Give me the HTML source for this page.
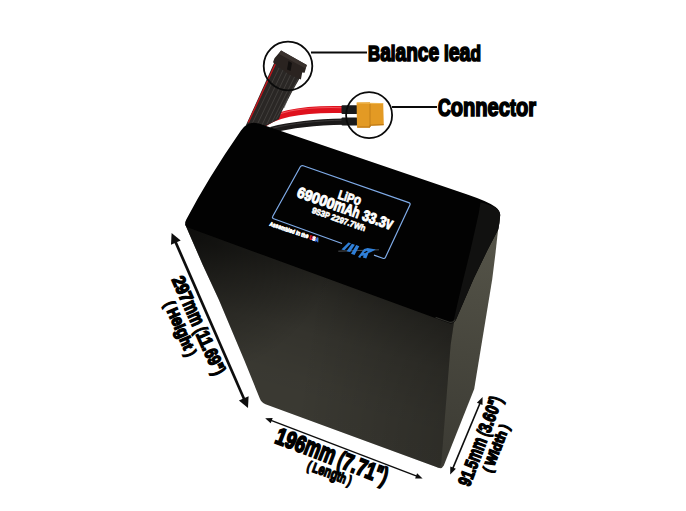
<!DOCTYPE html>
<html><head><meta charset="utf-8"><title>LiPo 69000mAh 33.3v</title>
<style>
html,body{margin:0;padding:0;background:#fff;}
svg{display:block}
text{font-family:"Liberation Sans",sans-serif;font-weight:bold;}
</style></head><body>
<svg width="686" height="511" viewBox="0 0 686 511">
<defs>
<linearGradient id="gf" gradientUnits="userSpaceOnUse" x1="335" y1="278" x2="290" y2="440">
<stop offset="0" stop-color="#000" stop-opacity="0.42"/><stop offset="0.12" stop-color="#000" stop-opacity="0.3"/><stop offset="0.35" stop-color="#000" stop-opacity="0.13"/><stop offset="0.65" stop-color="#000" stop-opacity="0.03"/><stop offset="1" stop-color="#000" stop-opacity="0"/>
</linearGradient>
<linearGradient id="gf2" gradientUnits="userSpaceOnUse" x1="300" y1="380" x2="450" y2="400">
<stop offset="0" stop-color="#000" stop-opacity="0"/><stop offset="1" stop-color="#000" stop-opacity="0.22"/>
</linearGradient>
<radialGradient id="gf3" gradientUnits="userSpaceOnUse" cx="192" cy="226" r="150">
<stop offset="0" stop-color="#000" stop-opacity="0.6"/><stop offset="0.4" stop-color="#000" stop-opacity="0.32"/><stop offset="1" stop-color="#000" stop-opacity="0"/>
</radialGradient>
<linearGradient id="gr" gradientUnits="userSpaceOnUse" x1="490" y1="250" x2="455" y2="460">
<stop offset="0" stop-color="#535247"/><stop offset="0.5" stop-color="#47463d"/><stop offset="1" stop-color="#3c3b34"/>
</linearGradient>
</defs>
<rect width="686" height="511" fill="#fff"/>

<!-- power wires -->
<path d="M271,130 C290,125.2 318,122.2 344,121.7" stroke="#1b1919" stroke-width="6.3" fill="none"/>
<path d="M273,128.2 C291,123.4 318,120.6 344,120.1" stroke="#3a3737" stroke-width="1" fill="none"/>
<path d="M261.5,125.5 C275,113.5 302,108.6 343,109.6" stroke="#df111d" stroke-width="7" fill="none"/>
<path d="M265,121.5 C278,111 303,106.6 342,107.7" stroke="#f0525a" stroke-width="1.1" fill="none"/>
<rect x="341.5" y="105.3" width="16" height="8.6" rx="1" fill="#1a1a1a"/>
<rect x="341.5" y="117.6" width="16" height="7.8" rx="1" fill="#1a1a1a"/>
<path d="M356.6,102.6 L370,102.2 L370,103.2 L383.2,103.2 L383.8,125.2 L370,125.8 L370,127.8 L357,127.8 Z" fill="#e39a24"/>
<path d="M370,103 L370,127" stroke="#c07d18" stroke-width="0.9"/>
<path d="M357.2,103 L383.2,103.6" stroke="#f0b850" stroke-width="1"/>
<path d="M357.5,127 L370,127 L370,125.2 L383.6,124.6" stroke="#b87414" stroke-width="1" fill="none"/>

<!-- balance wires -->
<g id="balance">
<path d="M274.5,62 L301,76 L293,90 L281,113 L279,119 L262,128 L246,125 L257,101 Z" fill="#2a2725"/>
<g stroke="#4b4745" stroke-width="0.7" fill="none">
<path d="M279,68 L252,124"/><path d="M283,70 L257,125"/><path d="M287,72 L262,125"/><path d="M291,74 L267,124"/><path d="M295,76 L272,122"/><path d="M298,79 L276,119"/>
</g>
<path d="M284,108 L288,98" stroke="#555" stroke-width="0.6"/>
<path d="M275.3,64 L262,93 L248.3,122.5" stroke="#c4161d" stroke-width="1.4" fill="none"/>
<path d="M273,62.3 L274.5,58.2 L281.1,50.4 L306.8,65 L304.6,72.8 L302.2,72.4 L300.9,79.4 L288.5,74.2 Z" fill="#2a2320"/>
<path d="M281.1,50.4 L306.8,65 L305.6,68.6 L279,54 Z" fill="#3a322e"/>
<path d="M288.5,61 L292,63 L290.5,71 L287,69.5 Z" fill="#120f0e"/>
</g>

<!-- battery -->
<path d="M446,320 L488,236 L498.4,227 L495.3,254.8 L492.1,280 L474.2,389 L443.8,465.5 Q441.2,470.3 436.5,466.5 L440,345 Z" fill="url(#gr)"/>
<path d="M185,224 L454,322 L450.6,345 L441.3,462.5 Q440.8,468.6 437,467.3 L265.5,404.3 Q261.5,402.8 259.8,398.5 L244.2,360 L219,300 L202.8,265 Z" fill="#3b3a33"/>
<path d="M185,224 L454,322 L450.6,345 L441.3,462.5 Q440.8,468.6 437,467.3 L265.5,404.3 Q261.5,402.8 259.8,398.5 L244.2,360 L219,300 L202.8,265 Z" fill="url(#gf)"/>
<path d="M185,224 L454,322 L450.6,345 L441.3,462.5 Q440.8,468.6 437,467.3 L265.5,404.3 Q261.5,402.8 259.8,398.5 L244.2,360 L219,300 L202.8,265 Z" fill="url(#gf3)"/>
<path d="M185,224 L454,322 L450.6,345 L441.3,462.5 Q440.8,468.6 437,467.3 L265.5,404.3 Q261.5,402.8 259.8,398.5 L244.2,360 L219,300 L202.8,265 Z" fill="url(#gf2)"/>
<path d="M186.3,219.5 Q208,178 241,130.5 Q245.8,123.4 253,122.8 Q258,122.8 264,125.2 L468,194.8 Q489,202 495.5,207 Q500,210.5 500.2,215 L499.4,223 L498.2,229.5 L487.5,250 L473.5,279 L456,319.5 Q454,324 449.5,323.3 L188,227.5 Q183.3,225.3 186.3,219.5 Z" fill="#020202"/>

<path d="M480.5,202.5 Q490,204.5 496,208 Q500,211 500.2,215 L499.4,223 L498.2,229.5 L487.5,250 L473.5,279 L456,319.5 Q455,321.8 453.2,322.6 L459,297 L470.5,250 L478.8,213 Z" fill="#111110"/>
<path d="M436,317.6 L449.5,322.2 Q453.4,323 455,320" stroke="#30302c" stroke-width="1.1" fill="none" stroke-linecap="round"/>
<!-- label -->
<path d="M342,243.5 L273.7,218.7 Q271.8,218 272.8,216.3 L300.3,166.8 Q301.3,165.1 303.2,165.8 L408.8,202.6 Q410.7,203.3 409.9,205.1 L385.5,257.2 Q384.7,259 382.8,258.3 L374,255.1" stroke="#7fabe8" stroke-width="1.2" fill="none"/>
<g id="logo">
<path d="M338.3,251.2 Q356,250.6 379,249.8" stroke="#9aa0a8" stroke-width="0.5" fill="none"/>
<path d="M341.4,249.4 L348.4,242.4 L351.0,243.3 L344.4,250.3 Z M346.6,251.2 L351.9,243.7 L354.9,244.8 L350.1,252.1 Z M351.0,253.8 L356.2,245.1 L359.3,246.2 L354.5,254.9 Z" fill="#2f7fd8"/>
<path d="M358.0,256.9 L364.1,249.0 L367.6,248.1 L375.9,249.4 L371.1,252.1 L368.5,252.9 L366.3,258.6 L362.8,257.6 L363.7,255.6 L361.1,256.0 L360.2,257.9 Z" fill="#2f7fd8"/>
<path d="M363.7,252.5 L366.7,250.7 L367.8,251.6 L365.0,253.2 Z" fill="#0a0a0a"/>
</g>

<!-- callouts -->
<circle cx="288" cy="66" r="24.3" fill="none" stroke="#0a0a0a" stroke-width="1.8"/>
<circle cx="369.1" cy="115.2" r="23" fill="none" stroke="#0a0a0a" stroke-width="1.8"/>
<line x1="311" y1="52.5" x2="367" y2="52.5" stroke="#0a0a0a" stroke-width="2"/>
<line x1="392" y1="107" x2="437" y2="107" stroke="#0a0a0a" stroke-width="2"/>

<!-- arrows -->
<g id="arrows">
<line x1="175.0" y1="240.7" x2="244.6" y2="400.2" stroke="#0d0d0d" stroke-width="2.7"/>
<path d="M171.6,232.9 L171.0,244.7 L180.7,240.5 Z" fill="#0d0d0d"/>
<path d="M248.0,408.0 L238.9,400.4 L248.6,396.2 Z" fill="#0d0d0d"/>
<line x1="270.4" y1="420.2" x2="417.4" y2="476.4" stroke="#0d0d0d" stroke-width="1.4"/>
<path d="M265.2,418.2 L270.7,423.3 L272.7,418.1 Z" fill="#0d0d0d"/>
<path d="M422.6,478.4 L415.1,478.5 L417.1,473.3 Z" fill="#0d0d0d"/>
<line x1="452.5" y1="469.1" x2="480.3" y2="402.5" stroke="#0d0d0d" stroke-width="1.6"/>
<path d="M450.2,474.6 L455.9,468.8 L450.3,466.5 Z" fill="#0d0d0d"/>
<path d="M482.6,397.0 L482.5,405.1 L476.9,402.8 Z" fill="#0d0d0d"/>
</g>
<text xml:space="preserve" transform="translate(171.4,279.4) rotate(66.0)" font-size="18.40" stroke-width="1.50" fill="#000" stroke="#000"><tspan textLength="26.63" lengthAdjust="spacingAndGlyphs">297</tspan><tspan textLength="26.00" lengthAdjust="spacingAndGlyphs"><tspan font-size="20.98">mm</tspan></tspan><tspan textLength="7.55" lengthAdjust="spacingAndGlyphs"> (</tspan><tspan textLength="35.35" lengthAdjust="spacingAndGlyphs">11.69</tspan><tspan textLength="10.46" lengthAdjust="spacingAndGlyphs">")</tspan></text>
<text xml:space="preserve" transform="translate(163.9,303.9) rotate(66.5)" font-size="15.40" stroke-width="1.50" fill="#000" stroke="#000"><tspan textLength="7.38" lengthAdjust="spacingAndGlyphs">( </tspan><tspan textLength="43.74" lengthAdjust="spacingAndGlyphs">H<tspan font-size="17.56">e</tspan>i<tspan font-size="17.56">g</tspan>ht</tspan><tspan textLength="7.38" lengthAdjust="spacingAndGlyphs"> )</tspan></text>
<text xml:space="preserve" transform="translate(273.8,442.4) rotate(20.9)" font-size="23.60" stroke-width="1.80" fill="#000" stroke="#000"><tspan textLength="30.76" lengthAdjust="spacingAndGlyphs">196</tspan><tspan textLength="31.72" lengthAdjust="spacingAndGlyphs"><tspan font-size="26.90">mm</tspan></tspan><tspan textLength="9.21" lengthAdjust="spacingAndGlyphs"> (</tspan><tspan textLength="34.05" lengthAdjust="spacingAndGlyphs">7.71</tspan><tspan textLength="12.77" lengthAdjust="spacingAndGlyphs">")</tspan></text>
<text xml:space="preserve" transform="translate(306.2,469.4) rotate(20.3)" font-size="13.60" stroke-width="1.40" fill="#000" stroke="#000"><tspan textLength="5.75" lengthAdjust="spacingAndGlyphs">( </tspan><tspan textLength="35.00" lengthAdjust="spacingAndGlyphs">L<tspan font-size="15.50">eng</tspan>th</tspan><tspan textLength="5.75" lengthAdjust="spacingAndGlyphs"> )</tspan></text>
<text xml:space="preserve" transform="translate(469.6,487.2) rotate(-69.4)" font-size="18.20" stroke-width="1.50" fill="#000" stroke="#000"><tspan textLength="25.91" lengthAdjust="spacingAndGlyphs">91.5</tspan><tspan textLength="24.14" lengthAdjust="spacingAndGlyphs"><tspan font-size="20.75">mm</tspan></tspan><tspan textLength="7.01" lengthAdjust="spacingAndGlyphs"> (</tspan><tspan textLength="27.23" lengthAdjust="spacingAndGlyphs">3.60</tspan><tspan textLength="9.72" lengthAdjust="spacingAndGlyphs">")</tspan></text>
<text xml:space="preserve" transform="translate(491.4,473.3) rotate(-68.6)" font-size="14.00" stroke-width="1.40" fill="#000" stroke="#000"><tspan textLength="6.71" lengthAdjust="spacingAndGlyphs">( </tspan><tspan textLength="36.57" lengthAdjust="spacingAndGlyphs">Width</tspan><tspan textLength="6.71" lengthAdjust="spacingAndGlyphs"> )</tspan></text>
<text xml:space="preserve" transform="translate(368.0,61.0) rotate(0.0)" font-size="22.00" stroke-width="1.70" fill="#000" stroke="#000"><tspan textLength="71.17" lengthAdjust="spacingAndGlyphs">B<tspan font-size="25.08">a</tspan>l<tspan font-size="25.08">ance</tspan></tspan><tspan textLength="41.83" lengthAdjust="spacingAndGlyphs"> l<tspan font-size="25.08">ea</tspan>d</tspan></text>
<text xml:space="preserve" transform="translate(438.0,116.0) rotate(0.0)" font-size="23.00" stroke-width="1.70" fill="#000" stroke="#000"><tspan textLength="98.00" lengthAdjust="spacingAndGlyphs">C<tspan font-size="26.22">onnec</tspan>t<tspan font-size="26.22">or</tspan></tspan></text>
<text xml:space="preserve" transform="translate(337.3,198.3) rotate(18.2)" font-size="12.60" stroke-width="0.80" fill="#fff" stroke="#fff"><tspan textLength="23.50" lengthAdjust="spacingAndGlyphs">LiP<tspan font-size="14.36">o</tspan></tspan></text>
<text xml:space="preserve" transform="translate(295.9,196.6) rotate(19.4)" font-size="15.20" stroke-width="1.00" fill="#fff" stroke="#fff"><tspan textLength="38.93" lengthAdjust="spacingAndGlyphs">69000</tspan><tspan textLength="26.75" lengthAdjust="spacingAndGlyphs"><tspan font-size="17.33">m</tspan>Ah</tspan><tspan textLength="28.17" lengthAdjust="spacingAndGlyphs"> 33.3</tspan><tspan textLength="6.65" lengthAdjust="spacingAndGlyphs"><tspan font-size="17.33">v</tspan></tspan></text>
<text xml:space="preserve" transform="translate(311.2,212.8) rotate(19.2)" font-size="8.60" stroke-width="0.60" fill="#fff" stroke="#fff"><tspan textLength="4.67" lengthAdjust="spacingAndGlyphs">9</tspan><tspan textLength="4.48" lengthAdjust="spacingAndGlyphs">S</tspan><tspan textLength="4.67" lengthAdjust="spacingAndGlyphs">3</tspan><tspan textLength="4.44" lengthAdjust="spacingAndGlyphs">P</tspan><tspan textLength="26.22" lengthAdjust="spacingAndGlyphs"> 2297.7</tspan><tspan textLength="11.93" lengthAdjust="spacingAndGlyphs">Wh</tspan></text>
<text transform="translate(269.2,225.6) rotate(18.6) scale(0.803,1)" font-size="5.70" stroke-width="0.70" fill="#fff" stroke="#fff" xml:space="preserve">A<tspan font-size="6.50">ssem</tspan>bl<tspan font-size="6.50">e</tspan>d i<tspan font-size="6.50">n</tspan> th<tspan font-size="6.50">e</tspan> <tspan fill="#e0202a" stroke="#e0202a">U</tspan><tspan fill="#fff">S</tspan><tspan fill="#3d7be0" stroke="#3d7be0">A</tspan></text>

</svg>
</body></html>
